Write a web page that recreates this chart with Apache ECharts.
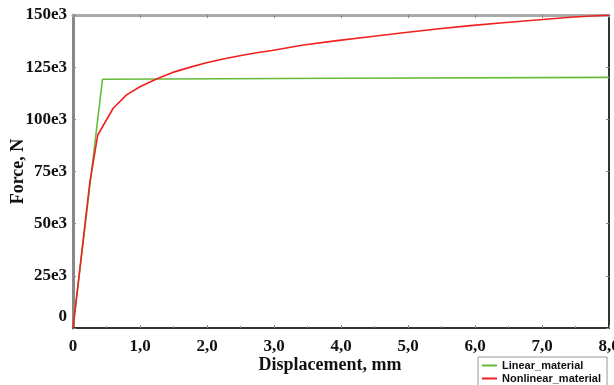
<!DOCTYPE html>
<html>
<head>
<meta charset="utf-8">
<script src="https://cdn.jsdelivr.net/npm/echarts@6/dist/echarts.min.js"></script>
<style>
html,body{margin:0;padding:0;background:#fff;}
#c{width:614px;height:385px;}
</style>
</head>
<body>
<div id="c"></div>
<script>
// ---- data ----
var seriesNames = ['Linear_material', 'Nonlinear_material'];
var linearX = [0, 0.44, 4.0, 8.0];
var linearY = [0, 119200, 119700, 120100];
var nonlinearX = [0, 0.25, 0.37, 0.60, 0.80, 1.00, 1.27, 1.49, 1.74, 1.99, 2.24, 2.49, 2.74, 2.97, 3.44, 3.94, 4.43, 4.93, 5.43, 5.93, 6.42, 6.92, 7.42, 8.0];
var nonlinearY = [0, 69500, 92500, 105300, 111700, 115600, 119700, 122500, 124900, 127100, 128900, 130500, 131900, 133000, 135600, 137700, 139600, 141500, 143300, 144900, 146300, 147600, 148900, 150000];
var xTickValues = [0, 1, 2, 3, 4, 5, 6, 7, 8];
var xTickLabels = ['0', '1,0', '2,0', '3,0', '4,0', '5,0', '6,0', '7,0', '8,0'];
var yTickValues = [0, 25000, 50000, 75000, 100000, 125000, 150000];
var yTickLabels = ['0', '25e3', '50e3', '75e3', '100e3', '125e3', '150e3'];
var xAxisTitle = 'Displacement, mm';
var yAxisTitle = 'Force, N';

function zip(xs, ys) { return xs.map(function (x, i) { return [x, ys[i]]; }); }
function lookup(vals, labels) {
  return function (v) {
    for (var i = 0; i < vals.length; i++) if (Math.abs(vals[i] - v) < 1e-6) return labels[i];
    return '';
  };
}
var yLabelOf = lookup(yTickValues, yTickLabels);

var serif = '"Liberation Serif", "Times New Roman", serif';
var chart = echarts.init(document.getElementById('c'));
chart.setOption({
  animation: false,
  backgroundColor: '#ffffff',
  grid: { left: 73, right: 5, top: 15, bottom: 57, containLabel: false, outerBoundsMode: 'none' },
  legend: {
    orient: 'vertical',
    left: 478, top: 357, height: 60,
    padding: [3, 6, 3, 4],
    itemGap: 2,
    itemWidth: 15, itemHeight: 2,
    icon: 'rect',
    borderColor: '#999', borderWidth: 1,
    backgroundColor: '#fff',
    textStyle: { fontFamily: '"Liberation Sans", Arial, sans-serif', fontWeight: 'bold', fontSize: 11, color: '#111' },
    data: seriesNames
  },
  xAxis: [{
    type: 'value', min: 0, max: 8, interval: 1,
    name: xAxisTitle, nameLocation: 'middle', nameGap: 28, nameMoveOverlap: false,
    nameTextStyle: { fontFamily: serif, fontWeight: 'bold', fontSize: 18, color: '#111', padding: [0, 22, 0, 0] },
    axisLine: { onZero: false, lineStyle: { color: '#333', width: 2 } },
    axisTick: { inside: true, length: 3, lineStyle: { color: '#888' } },
    minorTick: { show: true, splitNumber: 2, length: 2, lineStyle: { color: '#888' } },
    splitLine: { show: false },
    axisLabel: { margin: 10, fontFamily: serif, fontWeight: 'bold', fontSize: 17, color: '#111',
      formatter: lookup(xTickValues, xTickLabels) }
  }, {
    type: 'value', position: 'top', min: 0, max: 8, interval: 1,
    axisLine: { show: true, onZero: false, lineStyle: { color: '#aaa', width: 3 } },
    axisTick: { show: true, inside: true, length: 3, lineStyle: { color: '#888' } },
    axisLabel: { show: false }, splitLine: { show: false }
  }],
  yAxis: [{
    type: 'value', min: 0, max: 150000, interval: 25000,
    name: yAxisTitle, nameLocation: 'middle', nameGap: 46, nameMoveOverlap: false,
    nameTextStyle: { fontFamily: serif, fontWeight: 'bold', fontSize: 18, color: '#111' },
    axisLine: { show: true, onZero: false, lineStyle: { color: '#888', width: 3 } },
    axisTick: { show: true, inside: true, length: 3, lineStyle: { color: '#888' } },
    minorTick: { show: true, splitNumber: 2, length: 2, lineStyle: { color: '#888' } },
    splitLine: { show: false },
    axisLabel: { margin: 6, fontFamily: serif, fontWeight: 'bold', fontSize: 17, color: '#111',
      formatter: function (v) { var s = yLabelOf(v); return v === 0 ? '{z|' + s + '}' : s; },
      rich: { z: { fontFamily: serif, fontWeight: 'bold', fontSize: 17, color: '#111', padding: [0, 0, 22, 0] } } }
  }, {
    type: 'value', position: 'right', min: 0, max: 150000, interval: 25000,
    axisLine: { show: true, onZero: false, lineStyle: { color: '#333', width: 2 } },
    axisTick: { show: true, inside: true, length: 3, lineStyle: { color: '#888' } },
    axisLabel: { show: false }, splitLine: { show: false }
  }],
  series: [{
    name: seriesNames[0], type: 'line', symbol: 'none',
    color: '#66bb38',
    lineStyle: { color: '#66bb38', width: 1.6 },
    data: zip(linearX, linearY)
  }, {
    name: seriesNames[1], type: 'line', symbol: 'none', smooth: false,
    color: '#f02020',
    lineStyle: { color: '#f02020', width: 1.6 },
    data: zip(nonlinearX, nonlinearY)
  }]
});
</script>
</body>
</html>
